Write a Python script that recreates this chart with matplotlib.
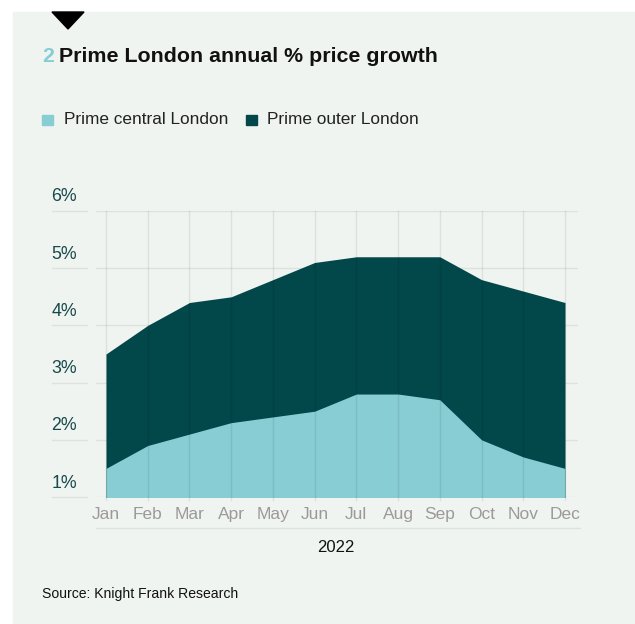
import matplotlib
matplotlib.use("Agg")
import matplotlib.pyplot as plt
from matplotlib.patches import Rectangle, Polygon
from matplotlib.transforms import blended_transform_factory

months = ["Jan", "Feb", "Mar", "Apr", "May", "Jun", "Jul", "Aug", "Sep", "Oct", "Nov", "Dec"]
central = [1.5, 1.9, 2.1, 2.3, 2.4, 2.5, 2.8, 2.8, 2.7, 2.0, 1.7, 1.5]
outer = [3.5, 4.0, 4.4, 4.5, 4.8, 5.1, 5.2, 5.2, 5.2, 4.8, 4.6, 4.4]
yticks = [1, 2, 3, 4, 5, 6]
series_names = ["Prime central London", "Prime outer London"]

C_CENT = "#88cdd4"; C_OUT = "#02474a"; BG = "#f0f4f0"; GRID = "#dde2de"
plt.rcParams["font.family"] = ["Liberation Sans", "DejaVu Sans"]

W, H = 635, 624
fig = plt.figure(figsize=(W/100, H/100), dpi=100)
fig.patch.set_facecolor("white")
def fx(px): return px / W
def fy(py): return 1 - py / H
fig.patches.append(Rectangle((fx(13), 0), 1, fy(12), transform=fig.transFigure, color=BG, zorder=-10))
fig.patches.append(Polygon([(fx(52), fy(12)), (fx(84), fy(12)), (fx(68), fy(29))], closed=True,
                           transform=fig.transFigure, color="black", zorder=1))

# title + legend
fig.text(fx(42), fy(57), "2", color=C_CENT, fontsize=15.4, fontweight="bold", va="center")
fig.text(fx(59), fy(57), "Prime London annual % price growth", color="#111111", fontsize=15.4,
         fontweight="bold", va="center")
for (x0, xt), name, c in zip([(42, 64), (246, 267)], series_names, [C_CENT, C_OUT]):
    fig.patches.append(Rectangle((fx(x0), fy(125)), fx(11), 10/H, transform=fig.transFigure, color=c))
    fig.text(fx(xt), fy(120), name, fontsize=12.4, color="#222222", va="center")

ax = fig.add_axes([fx(96), fy(497), fx(578) - fx(96), fy(211) - fy(497)])
ax.set_facecolor("none")
x = range(len(months))
step = (565 - 106) / 11
ax.set_xlim(-10/step, 11 + 13/step); ax.set_ylim(1, 6)
for v in yticks:
    ax.axhline(v, color=GRID, lw=1, zorder=0)
ax.fill_between(x, 0, outer, color=C_OUT, lw=0, zorder=1)
ax.fill_between(x, 0, central, color=C_CENT, lw=0, zorder=2)
bt = blended_transform_factory(ax.transData, ax.transAxes)
for i in x:
    ax.plot([i, i], [-3/286, 1], color="black", alpha=0.08, lw=1, transform=bt, clip_on=False, zorder=3)
for s in ax.spines.values():
    s.set_visible(False)
ax.set_xticks(list(x), months)
ax.tick_params(axis="x", length=0, pad=7, labelsize=12.5, labelcolor="#9a9a9a")
ax.set_yticks([]); ax.set_ylabel("")

# y labels with short segments to the left
yt = blended_transform_factory(ax.transAxes, ax.transData)
for v in yticks:
    ax.plot([(52-96)/482, (87-96)/482], [v, v], color=GRID, lw=1, transform=yt, clip_on=False)
    ax.annotate(f"{v}%", xy=((77-96)/482, v), xycoords=yt, xytext=(0, 14), textcoords="offset pixels",
                ha="right", va="center", fontsize=12.8, color="#174a4b", annotation_clip=False)

fig.lines.append(plt.Line2D([fx(96), fx(580)], [fy(528), fy(528)], transform=fig.transFigure, color=GRID, lw=1))
fig.text(fx(336), fy(547), "2022", fontsize=12, color="#111111", ha="center", va="center")
fig.text(fx(42), fy(594), "Source: Knight Frank Research", fontsize=10.1, color="#111111", va="center")

fig.savefig("out.png", dpi=100, facecolor=fig.get_facecolor())
